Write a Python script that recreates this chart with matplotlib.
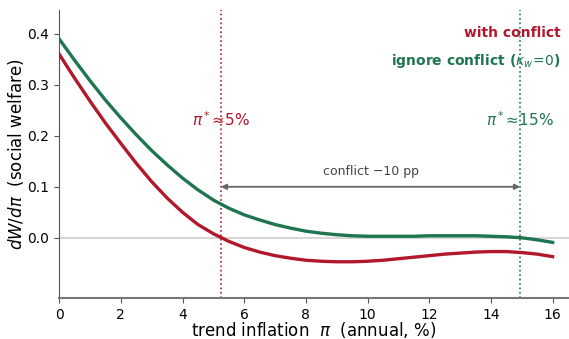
import numpy as np
import matplotlib
matplotlib.use("Agg")
import matplotlib.pyplot as plt

# data (dW/dpi vs trend inflation)
pi = np.arange(0, 16.5, 0.5)
w_conflict = [0.360, 0.313, 0.268, 0.225, 0.185, 0.146, 0.110, 0.078, 0.050, 0.026,
              0.008, -0.007, -0.019, -0.028, -0.035, -0.040, -0.044, -0.046, -0.047,
              -0.047, -0.046, -0.044, -0.041, -0.038, -0.035, -0.032, -0.030, -0.028,
              -0.027, -0.027, -0.029, -0.032, -0.037]
w_ignore = [0.390, 0.348, 0.308, 0.270, 0.235, 0.202, 0.171, 0.143, 0.117, 0.094,
            0.074, 0.058, 0.045, 0.035, 0.026, 0.019, 0.013, 0.009, 0.006, 0.004,
            0.003, 0.003, 0.003, 0.003, 0.004, 0.004, 0.004, 0.004, 0.003, 0.002,
            0.000, -0.004, -0.009]
pi_star_conflict = 5.24
pi_star_ignore = 14.95

red = '#b2182b'
green = '#1f7550'

fig = plt.figure(figsize=(5.69, 3.39), dpi=100)
ax = fig.add_axes([0.104, 0.121, 0.896, 0.85])

ax.axhline(0, color='#d0d0d0', lw=1.2, zorder=1)
ax.plot(pi, w_ignore, color=green, lw=2.4, zorder=3, solid_joinstyle='round')
ax.plot(pi, w_conflict, color=red, lw=2.4, zorder=3, solid_joinstyle='round')

ax.axvline(pi_star_conflict, color=red, ls=':', lw=1.2, zorder=2)
ax.axvline(pi_star_ignore, color=green, ls=':', lw=1.2, zorder=2)

ax.text(pi_star_conflict, 0.232, r'$\pi^*$≈5%', color=red, fontsize=11,
        ha='center', va='center')
ax.text(pi_star_ignore, 0.232, r'$\pi^*$≈15%', color=green, fontsize=11,
        ha='center', va='center')

ax.annotate('', xy=(pi_star_conflict, 0.1), xytext=(pi_star_ignore, 0.1),
            arrowprops=dict(arrowstyle='<|-|>', color='#666666', lw=1.3,
                            mutation_scale=8, shrinkA=0, shrinkB=0))
ax.text((pi_star_conflict + pi_star_ignore) / 2, 0.13, 'conflict \u221210 pp',
        color='#444444', fontsize=9, ha='center', va='center')

ax.text(16.25, 0.401, 'with conflict', color=red, fontsize=10, fontweight='bold',
        ha='right', va='center')
ax.text(16.25, 0.346, r'ignore conflict ($\kappa_w\!=\!0$)', color=green, fontsize=10,
        fontweight='bold', ha='right', va='center')

ax.set_xlim(0, 16.53)
ax.set_ylim(-0.118, 0.447)
ax.set_xticks(range(0, 17, 2))
ax.set_yticks([0.0, 0.1, 0.2, 0.3, 0.4])
ax.tick_params(labelsize=10, color='#555555')
ax.set_xlabel(r'trend inflation  $\pi$  (annual, %)', fontsize=12, labelpad=-1)
ax.set_ylabel(r'$dW/d\pi$  (social welfare)', fontsize=12, labelpad=1)
ax.spines['top'].set_visible(False)
ax.spines['right'].set_visible(False)
ax.spines['left'].set_color('#555555')
ax.spines['bottom'].set_color('#777777')
ax.spines['bottom'].set_linewidth(1.5)

fig.savefig('out.png', dpi=100)
